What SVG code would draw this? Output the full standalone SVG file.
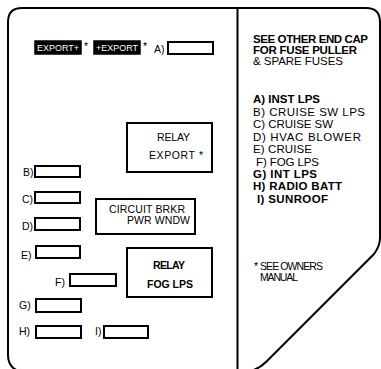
<svg xmlns="http://www.w3.org/2000/svg" width="381" height="369" viewBox="0 0 381 369">
<style>
text{font-family:"Liberation Sans",Arial,sans-serif;fill:#000}
.t{font-size:11.5px}
.b{font-weight:bold}
.lbl{font-size:10.5px}
.fuse{fill:#fff;stroke:#000;stroke-width:2}
.box{fill:#fff;stroke:#000;stroke-width:2}
.blk{fill:#000;stroke:#000;stroke-width:1.5}
.wt{fill:#fff;font-size:9px}
.outline{fill:none;stroke:#000;stroke-width:2}
</style>
<rect width="381" height="369" fill="#fff"/>
<g id="frame">
<path class="outline" d="M22 372 Q8 369 8 355 L8 22 Q8 8 22 8 L366 8 Q380 8 380 22 L380 238 Q380 246 374 254 L266 362 Q258 370 246 372"/>
<line class="outline" x1="237.5" y1="8" x2="237.5" y2="369"/>
</g>
<g id="export1"><rect class="blk" x="35" y="41" width="46" height="13"/><text class="wt" x="37" y="51" textLength="42" lengthAdjust="spacingAndGlyphs">EXPORT+</text><text class="lbl" x="84" y="50">*</text></g>
<g id="export2"><rect class="blk" x="94" y="41" width="46" height="13"/><text class="wt" x="96" y="51" textLength="42" lengthAdjust="spacingAndGlyphs">+EXPORT</text><text class="lbl" x="143" y="50">*</text></g>
<g id="fuseA"><text class="lbl" x="154" y="53">A)</text><rect class="fuse" x="168" y="42" width="45" height="12"/></g>
<g id="relayExport"><rect class="box" x="127" y="123" width="85" height="49"/><text class="lbl" x="157" y="141" textLength="33">RELAY</text><text class="lbl" x="149" y="159" textLength="54">EXPORT *</text></g>
<g id="fuseB"><text class="lbl" x="23" y="176">B)</text><rect class="fuse" x="35" y="166" width="45" height="11"/></g>
<g id="fuseC"><text class="lbl" x="22" y="203">C)</text><rect class="fuse" x="35" y="192" width="45" height="11"/></g>
<g id="fuseD"><text class="lbl" x="22" y="230">D)</text><rect class="fuse" x="35" y="218" width="45" height="12"/></g>
<g id="circuitBrkr"><rect class="box" x="96" y="199" width="99" height="35"/><text class="lbl" x="109" y="213" textLength="76">CIRCUIT BRKR</text><text class="lbl" x="127" y="224" textLength="63">PWR WNDW</text></g>
<g id="fuseE"><text class="lbl" x="21" y="259">E)</text><rect class="fuse" x="36" y="246" width="44" height="12"/></g>
<g id="relayFog"><rect class="box" x="127" y="248" width="85" height="49"/><text class="lbl b" x="153" y="269" textLength="32">RELAY</text><text class="lbl b" x="147" y="288" textLength="46">FOG LPS</text></g>
<g id="fuseF"><text class="lbl" x="55" y="286">F)</text><rect class="fuse" x="70" y="274" width="46" height="12"/></g>
<g id="fuseG"><text class="lbl" x="19" y="309">G)</text><rect class="fuse" x="36" y="299" width="45" height="13"/></g>
<g id="fuseH"><text class="lbl" x="19" y="335">H)</text><rect class="fuse" x="36" y="326" width="45" height="12"/></g>
<g id="fuseI"><text class="lbl" x="95" y="335">I)</text><rect class="fuse" x="104" y="326" width="44" height="12"/></g>
<g id="legend">
<text class="t b" x="253" y="43" textLength="115">SEE OTHER END CAP</text>
<text class="t b" x="253" y="54" textLength="104">FOR FUSE PULLER</text>
<text class="t" x="253" y="65" textLength="90">&amp; SPARE FUSES</text>
<text class="t b" x="253" y="103" textLength="67">A) INST LPS</text>
<text class="t" x="253" y="116" textLength="112">B) CRUISE SW LPS</text>
<text class="t" x="253" y="128" textLength="80">C) CRUISE SW</text>
<text class="t" x="253" y="141" textLength="108">D) HVAC BLOWER</text>
<text class="t" x="253" y="153" textLength="59">E) CRUISE</text>
<text class="t" x="256" y="166" textLength="63">F) FOG LPS</text>
<text class="t b" x="253" y="178" textLength="64">G) INT LPS</text>
<text class="t b" x="253" y="190" textLength="89">H) RADIO BATT</text>
<text class="t b" x="257" y="203" textLength="71">I) SUNROOF</text>
<text class="lbl" x="254" y="270">*</text>
<text class="lbl" x="260" y="270" textLength="63">SEE OWNERS</text>
<text class="lbl" x="260" y="281" textLength="38">MANUAL</text>
</g>
</svg>
